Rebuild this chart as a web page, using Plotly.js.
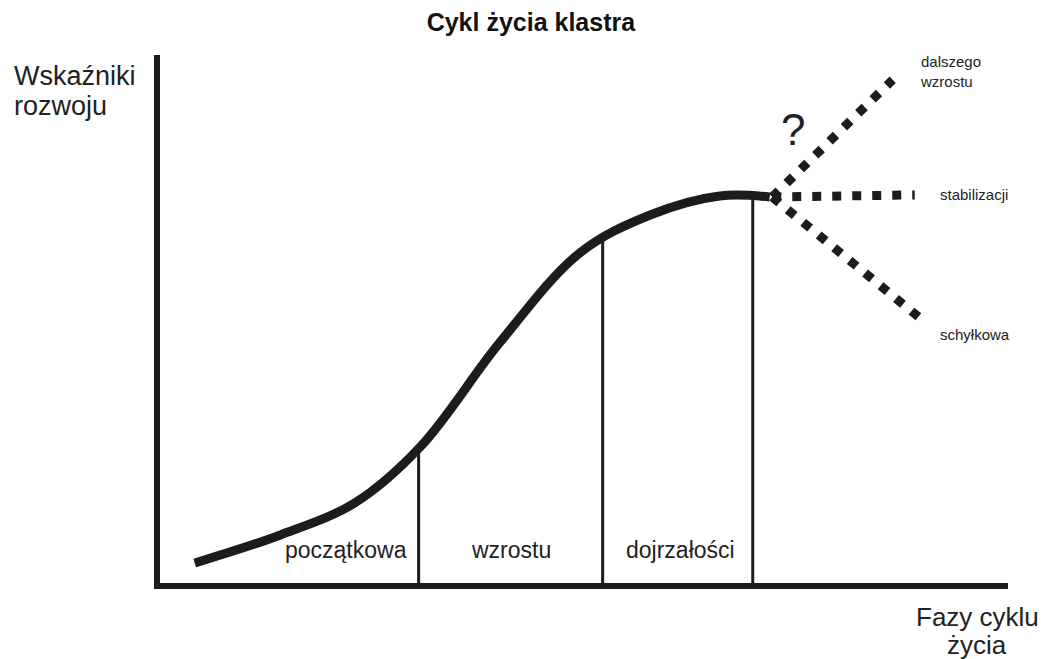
<!DOCTYPE html>
<html>
<head>
<meta charset="utf-8">
<script src="https://cdn.plot.ly/plotly-3.0.1.min.js"></script>
<style>
  html, body { margin: 0; padding: 0; background: #ffffff; }
  #chart { width: 1043px; height: 659px; }
</style>
</head>
<body>
<div id="chart"></div>
<script>
// ---- data (in 0..100 diagram units) ----
const curveX = [4.1, 14.2, 23.0, 30.7, 40.1, 49.5, 57.8, 66.0, 71.9];
const curveY = [3.8, 9.1, 15.2, 25.8, 45.6, 62.5, 69.7, 73.3, 73.1];

const phaseLabels = ['początkowa', 'wzrostu', 'dojrzałości'];
const phaseLabelX = [21.9, 41.4, 61.4];
const phaseLabelY = [6.3, 6.3, 6.3];
const phaseBoundaryX = [30.5, 52.2, 69.9];
const phaseBoundaryTop = [25.6, 65.3, 73.3];

const scenarioStartX = 72.2;
const scenarioStartY = 73.1;
const scenarioNames = ['dalszego<br>wzrostu', 'stabilizacji', 'schyłkowa'];
const scenarioEndX = [86.4, 89.0, 89.9];
const scenarioEndY = [95.3, 73.5, 49.8];
const scenarioLabelX = [89.4, 91.7, 91.7];
const scenarioLabelY = [96.8, 73.5, 47.0];

const questionMark = '?';
const questionX = 74.6;
const questionY = 85.8;

const chartTitle = 'Cykl życia klastra';
const yTitleLines = ['Wskaźniki', 'rozwoju'];
const xTitleLines = ['Fazy cyklu', 'życia'];

// ---- styles ----
const INK = '#1c1c1c';
const TXT = '#222222';
const FONT = 'Liberation Sans, Arial, sans-serif';

const traces = [];

// main S-curve
traces.push({
  x: curveX, y: curveY, type: 'scatter', mode: 'lines',
  line: { color: INK, width: 9, shape: 'spline', smoothing: 1.0 },
  hoverinfo: 'skip', showlegend: false
});

// phase boundaries
phaseBoundaryX.forEach((bx, i) => {
  traces.push({
    x: [bx, bx], y: [0, phaseBoundaryTop[i]], type: 'scatter', mode: 'lines',
    line: { color: INK, width: 3 }, hoverinfo: 'skip', showlegend: false
  });
});

// future scenarios (dotted)
scenarioEndX.forEach((ex, i) => {
  traces.push({
    x: [scenarioStartX, ex], y: [scenarioStartY, scenarioEndY[i]], type: 'scatter', mode: 'lines',
    line: { color: INK, width: 9, dash: '9px,11px' }, hoverinfo: 'skip', showlegend: false
  });
});

const annotations = [];
phaseLabels.forEach((t, i) => {
  annotations.push({
    x: phaseLabelX[i], y: phaseLabelY[i], xref: 'x', yref: 'y', text: t,
    showarrow: false, xanchor: 'center', yanchor: 'middle',
    font: { family: FONT, size: 23, color: TXT }
  });
});
scenarioNames.forEach((t, i) => {
  annotations.push({
    x: scenarioLabelX[i], y: scenarioLabelY[i], xref: 'x', yref: 'y', text: t,
    showarrow: false, xanchor: 'left', yanchor: 'middle', align: 'left',
    font: { family: FONT, size: 15, color: TXT }
  });
});
annotations.push({
  x: questionX, y: questionY, xref: 'x', yref: 'y', text: questionMark,
  showarrow: false, xanchor: 'center', yanchor: 'middle',
  font: { family: FONT, size: 44, color: TXT }
});
// y-axis title (two lines, left aligned)
const yTitlePaperY = [0.96, 0.903];
yTitleLines.forEach((t, i) => {
  annotations.push({
    x: -0.174, y: yTitlePaperY[i], xref: 'paper', yref: 'paper', text: t,
    showarrow: false, xanchor: 'left', yanchor: 'middle', align: 'left',
    font: { family: FONT, size: 27, color: TXT }
  });
});
// x-axis title (two lines, centred)
const xTitlePaperY = [-0.065, -0.117];
xTitleLines.forEach((t, i) => {
  annotations.push({
    x: 0.964, y: xTitlePaperY[i], xref: 'paper', yref: 'paper', text: t,
    showarrow: false, xanchor: 'center', yanchor: 'middle', align: 'center',
    font: { family: FONT, size: 26, color: TXT }
  });
});

const axisCommon = {
  range: [0, 100], showgrid: false, zeroline: false, showticklabels: false,
  ticks: '', showline: true, linecolor: INK, linewidth: 6, fixedrange: true
};

const layout = {
  width: 1043, height: 659,
  paper_bgcolor: '#ffffff', plot_bgcolor: '#ffffff',
  margin: { l: 160, r: 35, t: 55, b: 76 },
  title: {
    text: '<b>' + chartTitle + '</b>', x: 0.509, y: 0.966, xanchor: 'center', yanchor: 'middle',
    font: { family: FONT, size: 25, color: '#111111' }
  },
  xaxis: Object.assign({}, axisCommon),
  yaxis: Object.assign({}, axisCommon),
  annotations: annotations,
  showlegend: false
};

Plotly.newPlot('chart', traces, layout, { displayModeBar: false, staticPlot: true });
</script>
</body>
</html>
